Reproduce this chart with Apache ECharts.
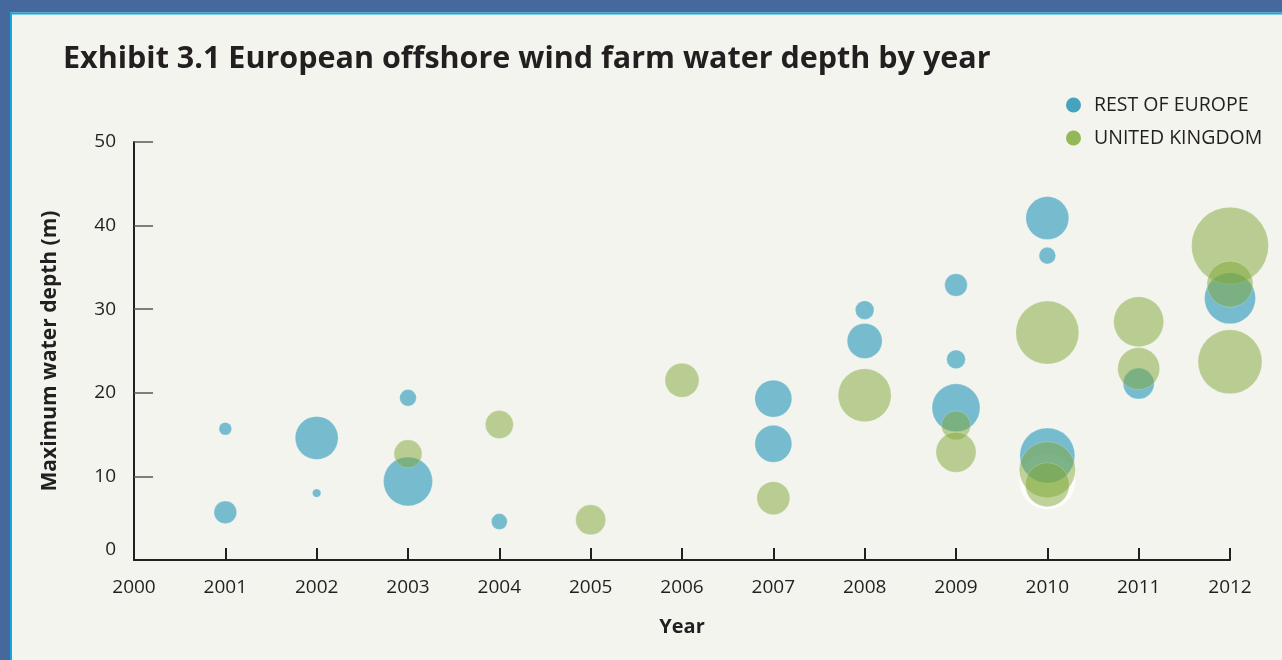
<!DOCTYPE html>
<html>
<head>
<meta charset="utf-8">
<title>European offshore wind farm water depth by year</title>
<script src="https://cdn.jsdelivr.net/npm/echarts@6/dist/echarts.min.js"></script>
<style>
  html, body { margin: 0; padding: 0; background: #f2f4ed; }
  #chart { width: 1282px; height: 660px; }
</style>
</head>
<body>
<div id="chart"></div>
<script>
// Offshore wind farms: commissioning year, maximum water depth (m) and capacity (MW, sets bubble area)
const europeYears    = [2001, 2001, 2002, 2002, 2003, 2003, 2004, 2007, 2007, 2008, 2008, 2009, 2009, 2009, 2010, 2010, 2010, 2011, 2012];
const europeDepths   = [15.7, 5.7, 14.6, 8.0, 19.4, 9.4, 4.6, 19.3, 13.9, 29.9, 26.2, 32.9, 24.0, 18.2, 40.9, 36.4, 12.5, 21.1, 31.3];
const europeCapacity = [18, 57, 205, 8, 31, 267, 28, 152, 152, 39, 136, 57, 39, 256, 205, 31, 336, 107, 289];

const ukYears    = [2003, 2004, 2005, 2006, 2007, 2008, 2009, 2009, 2010, 2010, 2010, 2011, 2011, 2012, 2012, 2012];
const ukDepths   = [12.7, 16.2, 4.8, 21.5, 7.4, 19.7, 16.1, 12.9, 27.2, 10.8, 9.0, 28.5, 22.9, 37.6, 33.0, 23.7];
const ukCapacity = [87, 87, 100, 128, 121, 312, 93, 178, 441, 348, 215, 278, 196, 659, 235, 455];

// Site drawn on a white base in the 2010 cluster
const ukBaseYears    = [2010];
const ukBaseDepths   = [9.4];
const ukBaseCapacity = [348];

const yearTicks = [2000, 2001, 2002, 2003, 2004, 2005, 2006, 2007, 2008, 2009, 2010, 2011, 2012];
const depthTicks = [0, 10, 20, 30, 40, 50];

const seriesNames = ['REST OF EUROPE', 'UNITED KINGDOM'];

function zipPoints(xs, ys, zs) {
  return xs.map((x, i) => [x, ys[i], zs[i]]);
}

const INK = '#231f20';
const FONT = '"Open Sans", "Noto Sans", sans-serif';
const bubbleSize = d => 3 * Math.sqrt(d[2]);

const chart = echarts.init(document.getElementById('chart'), null, { renderer: 'canvas' });

chart.setOption({
  backgroundColor: '#f2f4ed',
  animation: false,
  textStyle: { fontFamily: FONT },
  title: {
    text: 'Exhibit 3.1 European offshore wind farm water depth by year',
    left: 58,
    top: 39,
    textStyle: { fontFamily: FONT, fontWeight: 'bold', fontSize: 30.5, color: INK }
  },
  legend: {
    orient: 'vertical',
    left: 1061,
    top: 90,
    itemWidth: 15,
    itemHeight: 15,
    itemGap: 13,
    icon: 'circle',
    textStyle: { fontFamily: FONT, fontSize: 19.5, color: INK, padding: [0, 0, 0, 8] },
    data: [
      { name: seriesNames[0], itemStyle: { color: '#1a8fb0', borderWidth: 0 } },
      { name: seriesNames[1], itemStyle: { color: '#7ca831', borderWidth: 0 } }
    ]
  },
  grid: { left: 134, right: 52, top: 142, bottom: 100, containLabel: false },
  xAxis: {
    type: 'value',
    z: 6,
    min: yearTicks[0],
    max: yearTicks[yearTicks.length - 1],
    interval: 1,
    name: 'Year',
    nameLocation: 'middle',
    nameGap: 57,
    nameTextStyle: { fontFamily: FONT, fontWeight: 'bold', fontSize: 20, color: INK },
    axisLine: { lineStyle: { color: INK, width: 2 } },
    axisTick: { inside: true, length: 12, lineStyle: { color: INK, width: 2 } },
    axisLabel: { fontFamily: FONT, fontSize: 19, color: INK, margin: 18, formatter: v => String(v) },
    splitLine: { show: false }
  },
  yAxis: {
    type: 'value',
    z: 5,
    min: depthTicks[0],
    max: depthTicks[depthTicks.length - 1],
    interval: 10,
    name: 'Maximum water depth (m)',
    nameLocation: 'middle',
    nameGap: 73,
    nameRotate: 90,
    nameTextStyle: { fontFamily: FONT, fontWeight: 'bold', fontSize: 21, color: INK },
    axisLine: { show: true, lineStyle: { color: INK, width: 2 } },
    axisTick: { show: true, inside: true, length: 19, lineStyle: { color: '#5a5a5a', width: 1.5 } },
    axisLabel: {
      fontFamily: FONT, fontSize: 19, color: INK, margin: 18,
      formatter: v => (v === 0 ? '{zero|0}' : String(v)),
      rich: { zero: { fontFamily: FONT, fontSize: 19, color: INK, padding: [0, 0, 20, 0] } }
    },
    splitLine: { show: false }
  },
  graphic: [
    // frame bands along the top and left edges
    { type: 'rect', silent: true, z: 100, shape: { x: 0, y: 0, width: 1282, height: 12.5 }, style: { fill: '#45699c' } },
    { type: 'rect', silent: true, z: 100, shape: { x: 0, y: 12.5, width: 1282, height: 2 }, style: { fill: '#14a6de' } },
    { type: 'rect', silent: true, z: 100, shape: { x: 0, y: 0, width: 10, height: 660 }, style: { fill: '#45699c' } },
    { type: 'rect', silent: true, z: 100, shape: { x: 10, y: 12.5, width: 2, height: 648 }, style: { fill: '#14a6de' } }
  ],
  series: [
    {
      name: 'uk-base',
      type: 'scatter',
      z: 1,
      clip: false,
      silent: true,
      symbolSize: bubbleSize,
      itemStyle: { color: '#ffffff' },
      data: zipPoints(ukBaseYears, ukBaseDepths, ukBaseCapacity)
    },
    {
      name: seriesNames[0],
      type: 'scatter',
      z: 2,
      clip: false,
      symbolSize: bubbleSize,
      itemStyle: { color: 'rgba(23,145,181,0.7)', borderColor: 'rgba(255,255,255,0.35)', borderWidth: 0.8 },
      data: zipPoints(europeYears, europeDepths, europeCapacity)
    },
    {
      name: seriesNames[1],
      type: 'scatter',
      z: 3,
      clip: false,
      symbolSize: bubbleSize,
      itemStyle: { color: 'rgba(127,165,53,0.62)', borderColor: 'rgba(255,255,255,0.3)', borderWidth: 0.8 },
      data: zipPoints(ukYears, ukDepths, ukCapacity)
    }
  ]
});
</script>
</body>
</html>
